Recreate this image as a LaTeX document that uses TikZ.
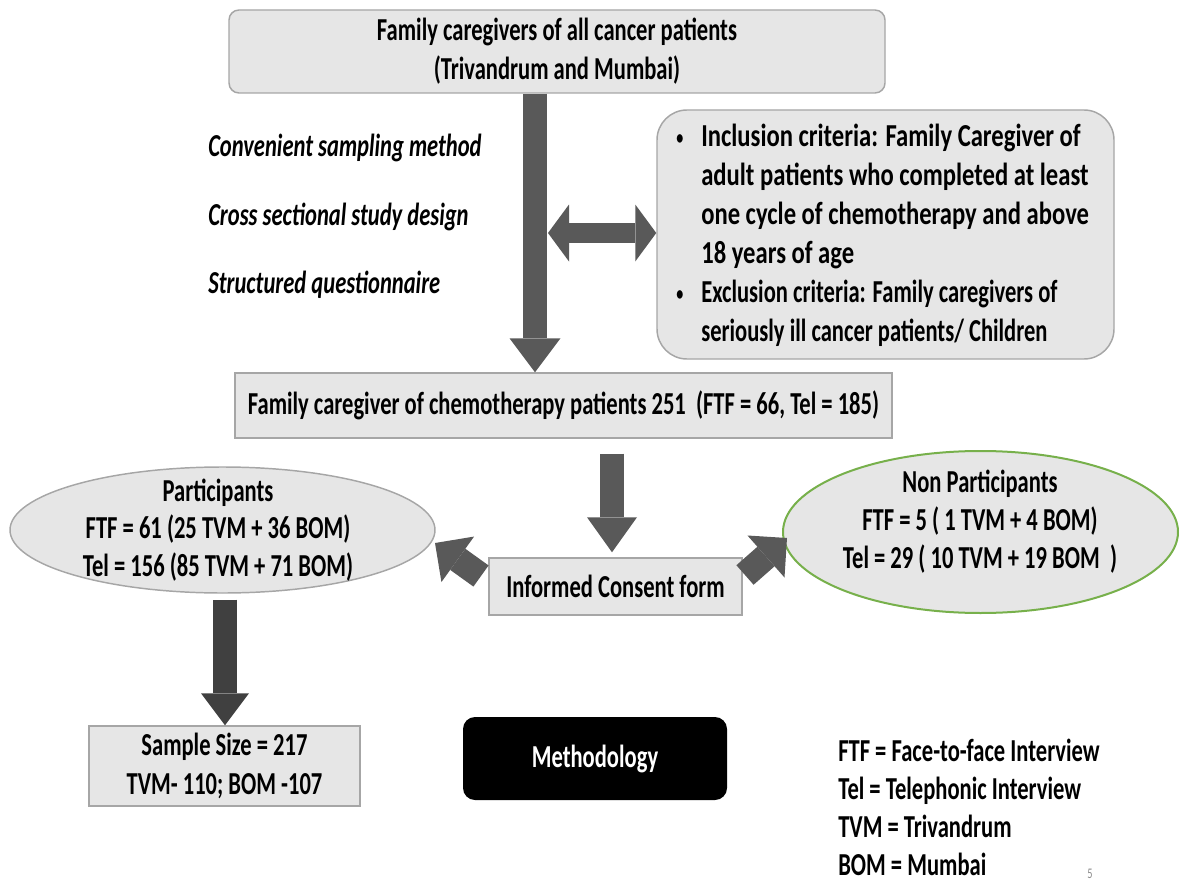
\documentclass[tikz,border=0pt]{standalone}
\usepackage{fontspec}
\setmainfont{Carlito}[FakeStretch=0.705]
\newfontfamily\widef{Carlito}[FakeStretch=0.77]
\usetikzlibrary{arrows.meta,shapes.geometric,calc}
\definecolor{boxfill}{HTML}{E6E6E6}
\definecolor{boxline}{HTML}{A6A6A6}
\definecolor{arr}{HTML}{595959}
\definecolor{arrdark}{HTML}{404040}
\definecolor{grn}{HTML}{77B04B}
\definecolor{pggray}{HTML}{8C8C8C}
\newcommand{\smbul}{\makebox[18.75pt][l]{\raisebox{1.5pt}{\fontsize{15}{15}\selectfont\textbullet}}}
\begin{document}
\begin{tikzpicture}[x=0.75pt,y=-0.75pt,
  font=\fontsize{24}{29.25}\selectfont\bfseries,
  box/.style={draw=boxline, fill=boxfill, line width=1.1pt, inner sep=0pt},
  ell/.style={ellipse, draw=boxline, fill=boxfill, line width=1.1pt, inner sep=0pt},
  txt/.style={inner sep=0pt, align=center},
  itx/.style={anchor=west, inner sep=0pt, font=\fontsize{24}{29.25}\selectfont\bfseries\itshape},
  blk/.style={draw=arr, line width=18pt, -{Triangle[width=38.25pt,length=25.5pt,line width=0pt]}},
  blktwo/.style={draw=arr, line width=18pt, -{Triangle[width=37.5pt,length=26.25pt,line width=0pt]}},
  blkthree/.style={draw=arrdark, line width=18pt, -{Triangle[width=36pt,length=24pt,line width=0pt]}},
  blkdiag/.style={draw=arr, line width=19.5pt, -{Triangle[width=42pt,length=21pt,line width=0pt]}},
  dblarr/.style={draw=arr, line width=15pt, {Triangle[width=42.75pt,length=15.75pt,line width=0pt]}-{Triangle[width=42.75pt,length=15.75pt,line width=0pt]}}
]
\useasboundingbox (0,0) rectangle (1179,881);

% boxes
\node[box, rounded corners=7.5pt, minimum width=492pt, minimum height=62.25pt, align=center] (top) at (557,51.5)
  {Family caregivers of all cancer patients\\(Trivandrum and Mumbai)};

\node[box, rounded corners=22.5pt, minimum width=342.75pt, minimum height=186.75pt] (crit) at (885.5,234.5) {};
\node[anchor=west, align=left, inner sep=0pt] (crittext) at (676,235)
  {\smbul{\widef\bfseries Inclusion criteria: Family Caregiver of}\\
   \hspace*{18.75pt}{\widef\bfseries adult patients who completed at least}\\
   \hspace*{18.75pt}{\widef\bfseries one cycle of chemotherapy and above}\\
   \hspace*{18.75pt}{\widef\bfseries 18 years of age}\\
   \smbul Exclusion criteria: Family caregivers of\\
   \hspace*{18.75pt}seriously ill cancer patients/ Children};

\node[box, minimum width=492.75pt, minimum height=48.75pt] (mid) at (563.5,405.5)
  {Family caregiver of chemotherapy patients 251\ \ (FTF = 66, Tel = 185)};

\node[ell, minimum width=318.75pt, minimum height=94.5pt] (part) at (222.5,530) {};
\node[txt, font=\fontsize{24}{28.1}\selectfont\bfseries] (parttext) at (218,530)
  {Participants\\FTF = 61 (25 TVM + 36 BOM)\\Tel = 156 (85 TVM + 71 BOM)};

\node[ell, draw=grn, line width=1.5pt, minimum width=296.25pt, minimum height=121.5pt] (non) at (980.5,532) {};
\node[txt, font=\fontsize{24}{28.5}\selectfont\bfseries] (nontext) at (980,522)
  {Non Participants\\FTF = 5 ( 1 TVM + 4 BOM)\\Tel = 29 ( 10 TVM + 19 BOM\ \ )};

\node[box, minimum width=189.75pt, minimum height=42.75pt] (consent) at (615.5,586.5) {Informed Consent form};

\node[box, minimum width=203.25pt, minimum height=60pt, align=center] (sample) at (224.5,766)
  {Sample Size = 217\\TVM- 110; BOM -107};

\node[fill=black, rounded corners=9pt, minimum width=198pt, minimum height=62.25pt, inner sep=0pt, text=white] (meth) at (595,758.5) {Methodology};

% italic method notes
\node[itx] (conv) at (208,148) {Convenient sampling method};
\node[itx] (cross) at (208,217) {Cross sectional study design};
\node[itx] (struct) at (208,285) {Structured questionnaire};

% legend
\node[anchor=west, align=left, inner sep=0pt, font=\fontsize{24}{28.5}\selectfont\bfseries] (legend) at (838,807)
  {FTF = Face-to-face Interview\\Tel = Telephonic Interview\\TVM = Trivandrum\\BOM = Mumbai};

\node[text=pggray, inner sep=0pt, font=\fontsize{11}{12}\selectfont] (pg) at (1090,874) {5};

% arrows
\draw[blk] (top.south -| 535,0) -- (mid.north -| 535,0);
\coordinate (dl) at (548,233);
\draw[dblarr] (dl) -- (crit.west |- dl);
\draw[blktwo] ($(mid.south -| 612,0)+(0,15)$) -- ($(consent.north -| 612,0)+(0,-5)$);
\draw[blkthree] ($(part.south -| 225,0)+(0,6)$) -- (sample.north -| 225,0);
\coordinate (ltail) at (481,576);
\coordinate (ltip) at (435,543);
\coordinate (rtail) at (745,575);
\coordinate (rtip) at (787,538);
\draw[blkdiag] (ltail) -- (ltip);
\draw[blkdiag] (rtail) -- (rtip);
\end{tikzpicture}
\end{document}
